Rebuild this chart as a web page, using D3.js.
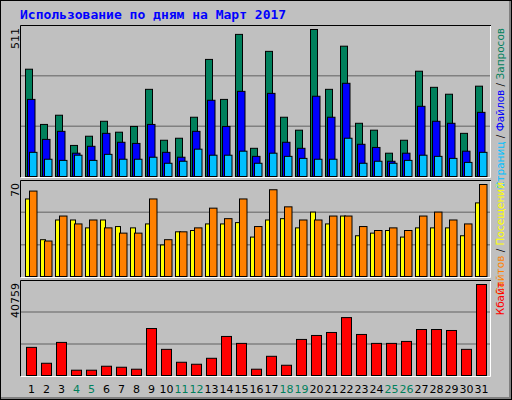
<!DOCTYPE html>
<html>
<head>
<meta charset="utf-8">
<script src="https://cdn.jsdelivr.net/npm/d3@7"></script>
<style>
  body { margin: 0; background: #fff; }
  text { font-family: "DejaVu Sans", sans-serif; }
</style>
</head>
<body>
<script>
const days = d3.range(1, 32)
const weekends = [4, 5, 11, 12, 18, 19, 25, 26]

const hits = [373, 181, 213, 108, 140, 192, 154, 174, 303, 126, 133, 206, 407, 268, 494, 98, 435, 206, 161, 511, 303, 453, 185, 161, 81, 126, 366, 310, 286, 150, 314]
const files = [268, 129, 157, 81, 105, 150, 119, 115, 181, 84, 67, 157, 265, 174, 296, 70, 289, 119, 98, 279, 206, 324, 112, 101, 53, 81, 244, 192, 185, 88, 223]
const pages = [84, 60, 56, 74, 56, 77, 60, 60, 67, 46, 53, 95, 74, 74, 88, 46, 81, 70, 63, 60, 60, 133, 46, 53, 46, 56, 74, 70, 63, 49, 84]
const visits = [59, 28, 43, 43, 37, 43, 38, 37, 40, 24, 34, 35, 40, 40, 41, 30, 43, 44, 37, 49, 40, 46, 31, 33, 35, 30, 37, 37, 37, 31, 56]
const sites = [65, 27, 46, 40, 43, 37, 33, 33, 59, 28, 34, 37, 52, 44, 59, 38, 66, 53, 43, 43, 46, 46, 38, 35, 37, 35, 46, 49, 43, 40, 70]
const kbytes = [12600, 5480, 14820, 2370, 2370, 4150, 3700, 2820, 21040, 11710, 5930, 5040, 7710, 17490, 14380, 2820, 8600, 4590, 16150, 17930, 19270, 25940, 18380, 14380, 14380, 15260, 20600, 20600, 20160, 11710, 40759]

const width = 512, height = 400
const svg = d3.select("body").append("svg").attr("width", width).attr("height", height)

// frame
svg.append("rect").attr("x", 0.5).attr("y", 0.5).attr("width", width - 1).attr("height", height - 1)
  .attr("fill", "#c0c0c0").attr("stroke", "#000")
svg.append("path").attr("d", `M1,${height - 2}H${width - 2}V1`).attr("fill", "none").attr("stroke", "#808080").attr("stroke-width", 2)

svg.append("text").attr("x", 20).attr("y", 19)
  .style("font-family", "'DejaVu Sans Mono', monospace").style("font-weight", "bold")
  .attr("font-size", 13).attr("fill", "#0000ff")
  .text("Использование по дням на Март 2017")

const x = d3.scaleLinear().domain([1, 32]).range([25, 490])

const panels = [
  { top: 25, bottom: 177, max: 511 },
  { top: 180, bottom: 277, max: 70 },
  { top: 280, bottom: 376, max: 40759 }
]

panels.forEach(p => {
  svg.append("rect").attr("x", 20).attr("y", p.top).attr("width", 471).attr("height", p.bottom - p.top)
    .attr("fill", "#c0c0c0")
  const h = p.bottom - p.top
  ;[1, 2].forEach(k => {
    svg.append("line").attr("x1", 21).attr("x2", 490)
      .attr("y1", p.bottom - h * k / 3).attr("y2", p.bottom - h * k / 3)
      .attr("stroke", "#808080").attr("stroke-width", 1.5)
  })
  svg.append("path").attr("d", `M20.5,${p.bottom}V${p.top + 0.5}H491`).attr("fill", "none").attr("stroke", "#000")
  svg.append("path").attr("d", `M21,${p.bottom + 0.5}H490.5V${p.top + 1}`).attr("fill", "none").attr("stroke", "#fff")
  p.y = d3.scaleLinear().domain([0, p.max]).range([p.bottom - 0.5, p.top + 4.5])
  svg.append("text").attr("transform", `translate(19,${p.top + 3}) rotate(-90)`)
    .attr("text-anchor", "end").attr("font-size", 11).attr("fill", "#000").text(p.max)
})

const bars = (data, panel, dx, w, color) => {
  svg.append("g").selectAll("rect").data(data).join("rect")
    .attr("x", (d, i) => x(days[i]) + dx + 0.5)
    .attr("y", d => panel.y(d))
    .attr("width", w)
    .attr("height", d => panel.y(0) - panel.y(d))
    .attr("fill", color).attr("stroke", "#000").attr("stroke-width", 1)
}

bars(hits, panels[0], 0, 7, "#00805c")
bars(files, panels[0], 2, 7.5, "#0000ff")
bars(pages, panels[0], 4, 7.5, "#00c0ff")
bars(visits, panels[1], 0, 5, "#ffff00")
bars(sites, panels[1], 4, 7.5, "#ff8000")
bars(kbytes, panels[2], 1, 10, "#ff0000")

// day labels
svg.append("g").selectAll("text").data(days).join("text")
  .attr("x", d => x(d) + 6.5).attr("y", 393)
  .attr("text-anchor", "middle").attr("font-size", 11)
  .attr("fill", d => weekends.includes(d) ? "#00805c" : "#000")
  .text(d => d)

// right legends
const legend = (parts, yEnd) => {
  const t = svg.append("text").attr("transform", `translate(504,${yEnd}) rotate(-90)`)
    .attr("text-anchor", "end").attr("font-size", 10.5)
  parts.forEach(([s, c]) => t.append("tspan").attr("fill", c).text(s))
}
legend([["Страниц", "#00c0ff"], [" / ", "#000"], ["Файлов", "#0000ff"], [" / ", "#000"], ["Запросов", "#00805c"]], 28)
legend([["Сайтов", "#ff8000"], [" / ", "#000"], ["Посещений", "#ffff00"]], 182)
legend([["Кбайт", "#ff0000"]], 282)
</script>
</body>
</html>
